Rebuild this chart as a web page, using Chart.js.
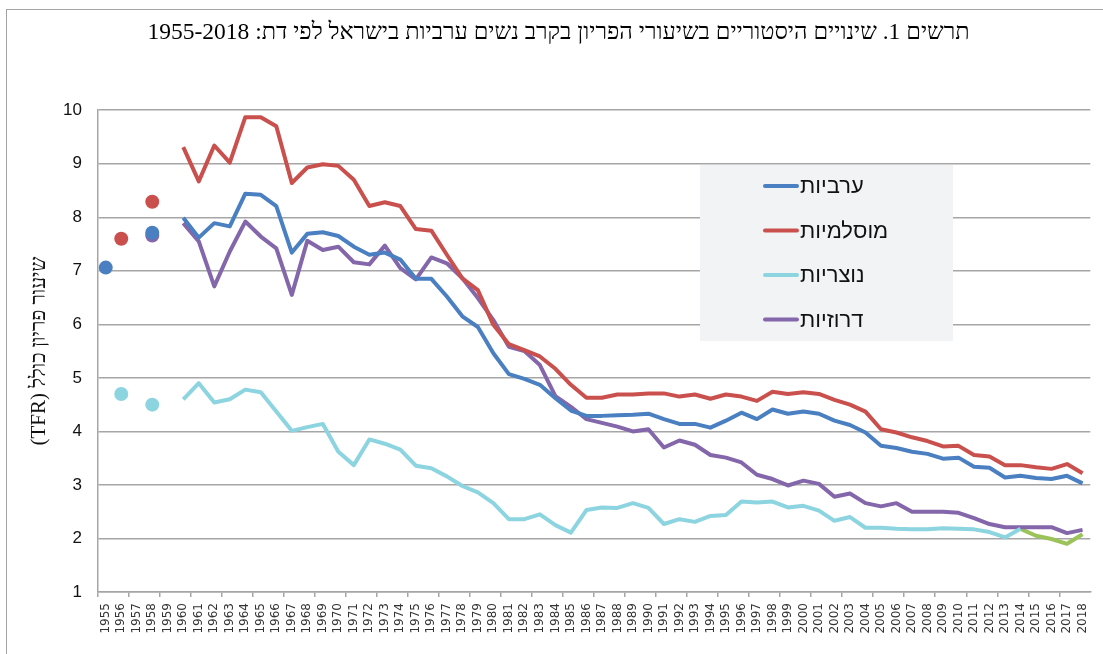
<!DOCTYPE html>
<html>
<head>
<meta charset="utf-8">
<script src="https://cdn.jsdelivr.net/npm/chart.js@4/dist/chart.umd.min.js"></script>
<style>
	html, body { margin: 0; padding: 0; background: #fff; }
	#wrap { position: relative; width: 1103px; height: 654px; overflow: hidden; }
	#frame { position: absolute; left: 6px; top: 9px; right: -10px; bottom: -10px; border-left: 1.5px solid #a3a3a3; border-top: 1.5px solid #a3a3a3; }
	canvas { position: absolute; left: 0; top: 0; }
</style>
</head>
<body>
<div id="wrap">
	<div id="frame"></div>
	<canvas id="graficoTFR" width="1103" height="654" dir="rtl"></canvas>
</div>
<script>
const koteret = 'תרשים 1. שינויים היסטוריים בשיעורי הפריון בקרב נשים ערביות בישראל לפי דת: 1955-2018';
const koteretY = 'שיעור פריון כולל (TFR)';

const shanim = [
	'1955', '1956', '1957', '1958', '1959', '1960', '1961', '1962', '1963', '1964',
	'1965', '1966', '1967', '1968', '1969', '1970', '1971', '1972', '1973', '1974',
	'1975', '1976', '1977', '1978', '1979', '1980', '1981', '1982', '1983', '1984',
	'1985', '1986', '1987', '1988', '1989', '1990', '1991', '1992', '1993', '1994',
	'1995', '1996', '1997', '1998', '1999', '2000', '2001', '2002', '2003', '2004',
	'2005', '2006', '2007', '2008', '2009', '2010', '2011', '2012', '2013', '2014',
	'2015', '2016', '2017', '2018',
];

const tiktaotY = [1, 2, 3, 4, 5, 6, 7, 8, 9, 10];

const araviyot = [
	7.06, null, null, 7.71, null, 7.99, 7.62, 7.89, 7.83, 8.44,
	8.42, 8.21, 7.34, 7.69, 7.72, 7.65, 7.45, 7.30, 7.34, 7.21,
	6.85, 6.85, 6.52, 6.15, 5.95, 5.46, 5.07, 4.98, 4.87, 4.62,
	4.39, 4.29, 4.29, 4.30, 4.31, 4.33, 4.23, 4.14, 4.14, 4.07,
	4.20, 4.35, 4.23, 4.41, 4.33, 4.37, 4.33, 4.20, 4.12, 3.98,
	3.73, 3.69, 3.62, 3.58, 3.49, 3.51, 3.34, 3.32, 3.14, 3.17,
	3.13, 3.11, 3.17, 3.03,
];

const muslemiyot = [
	null, 7.60, null, 8.29, null, 9.31, 8.67, 9.34, 9.02, 9.87,
	9.87, 9.70, 8.64, 8.93, 8.99, 8.96, 8.70, 8.21, 8.28, 8.21,
	7.78, 7.75, 7.30, 6.86, 6.64, 5.99, 5.63, 5.52, 5.40, 5.17,
	4.87, 4.63, 4.63, 4.69, 4.69, 4.71, 4.71, 4.65, 4.69, 4.61,
	4.69, 4.65, 4.57, 4.74, 4.70, 4.73, 4.70, 4.59, 4.50, 4.37,
	4.04, 3.98, 3.89, 3.82, 3.72, 3.73, 3.56, 3.53, 3.37, 3.37,
	3.33, 3.30, 3.39, 3.22,
];

const notzriyot = [
	null, 4.70, null, 4.50, null, 4.60, 4.90, 4.54, 4.60, 4.78,
	4.73, 4.37, 4.01, 4.08, 4.14, 3.62, 3.37, 3.85, 3.77, 3.66,
	3.36, 3.31, 3.16, 2.98, 2.86, 2.66, 2.36, 2.36, 2.45, 2.25,
	2.11, 2.53, 2.58, 2.57, 2.66, 2.57, 2.27, 2.36, 2.31, 2.42,
	2.44, 2.69, 2.67, 2.69, 2.58, 2.61, 2.52, 2.33, 2.40, 2.20,
	2.20, 2.18, 2.17, 2.17, 2.19, 2.18, 2.17, 2.12, 2.02, 2.18,
	null, null, null, null,
];

const druziyot = [
	null, null, null, 7.66, null, 7.89, 7.55, 6.71, 7.36, 7.92,
	7.64, 7.42, 6.55, 7.56, 7.39, 7.45, 7.16, 7.12, 7.47, 7.05,
	6.84, 7.25, 7.14, 6.86, 6.49, 6.08, 5.58, 5.50, 5.24, 4.66,
	4.46, 4.23, 4.16, 4.09, 4.00, 4.04, 3.70, 3.83, 3.75, 3.56,
	3.51, 3.42, 3.19, 3.11, 2.99, 3.08, 3.02, 2.78, 2.84, 2.66,
	2.60, 2.66, 2.50, 2.50, 2.50, 2.48, 2.38, 2.27, 2.21, 2.21,
	2.21, 2.21, 2.10, 2.16,
];

// continuation of the Christian line, no legend entry in the original
const hemshech = [
	null, null, null, null, null, null, null, null, null, null,
	null, null, null, null, null, null, null, null, null, null,
	null, null, null, null, null, null, null, null, null, null,
	null, null, null, null, null, null, null, null, null, null,
	null, null, null, null, null, null, null, null, null, null,
	null, null, null, null, null, null, null, null, null, 2.18,
	2.05, 1.99, 1.90, 2.08,
];

const afor = '#a6a6a6';

function kav(label, data, color, inLegend) {
	return {
		label: label,
		data: data,
		borderColor: color,
		backgroundColor: color,
		borderWidth: 4,
		borderJoinStyle: 'round',
		tension: 0,
		spanGaps: false,
		pointRadius: (ctx) => (ctx.dataIndex < 5 ? 7 : 0),
		pointBorderWidth: 0,
		pointHoverRadius: 0,
		inLegend: inLegend,
	};
}

const legendBox = {
	id: 'legendBox',
	beforeDatasetsDraw(chart) {
		const ctx = chart.ctx;
		ctx.save();
		ctx.fillStyle = '#f2f3f5';
		ctx.fillRect(700, 165, 253, 176);
		ctx.font = '22px "Liberation Sans"';
		ctx.textBaseline = 'middle';
		ctx.textAlign = 'left';
		let row = 0;
		chart.data.datasets.forEach((ds) => {
			if (!ds.inLegend) return;
			const y = 186 + row * 44.5;
			ctx.strokeStyle = ds.borderColor;
			ctx.lineWidth = 4;
			ctx.lineCap = 'round';
			ctx.beginPath();
			ctx.moveTo(765, y);
			ctx.lineTo(797, y);
			ctx.stroke();
			ctx.fillStyle = '#111';
			ctx.fillText(ds.label, 800, y + 1);
			row++;
		});
		ctx.restore();
	},
};

new Chart(document.getElementById('graficoTFR'), {
	type: 'line',
	data: {
		labels: shanim,
		datasets: [
			kav('ערביות', araviyot, '#4a7fc1', true),
			kav('מוסלמיות', muslemiyot, '#c9504d', true),
			kav('נוצריות', notzriyot, '#8cd4e0', true),
			kav('דרוזיות', druziyot, '#8466aa', true),
			kav('', hemshech, '#9bc35a', false),
		],
	},
	options: {
		responsive: false,
		animation: false,
		events: [],
		layout: {
			padding: { left: 22, right: 8, top: 0, bottom: 0 },
		},
		plugins: {
			legend: { display: false },
			tooltip: { enabled: false },
			title: {
				display: true,
				text: koteret,
				color: '#000',
				font: { family: 'Liberation Serif', size: 23.5, weight: 'normal' },
				padding: { top: 19, bottom: 63 },
			},
		},
		scales: {
			x: {
				offset: true,
				grid: {
					offset: true,
					drawOnChartArea: false,
					tickLength: 5,
					lineWidth: 1.5,
					color: (ctx) => (ctx.index % 2 === 0 ? afor : 'rgba(0,0,0,0)'),
				},
				border: { color: afor, width: 1.5 },
				ticks: {
					autoSkip: false,
					minRotation: 90,
					maxRotation: 90,
					padding: 6,
					color: '#333',
					font: { family: 'DejaVu Sans', size: 12 },
				},
				afterFit: (s) => { s.height = 62; },
			},
			y: {
				min: tiktaotY[0],
				max: tiktaotY[tiktaotY.length - 1],
				afterBuildTicks: (s) => { s.ticks = tiktaotY.map((v) => ({ value: v })); },
				ticks: {
					padding: 16,
					color: '#111',
					font: { family: 'Liberation Sans', size: 17 },
				},
				grid: { color: afor, lineWidth: 1.5, drawTicks: false },
				border: { color: afor, width: 1.5 },
				title: {
					display: true,
					text: koteretY,
					color: '#111',
					font: { family: 'Liberation Serif', size: 21 },
					padding: { top: 5, bottom: 0 },
				},
				afterFit: (s) => { s.width = 76; },
			},
		},
	},
	plugins: [legendBox],
});
</script>
</body>
</html>
